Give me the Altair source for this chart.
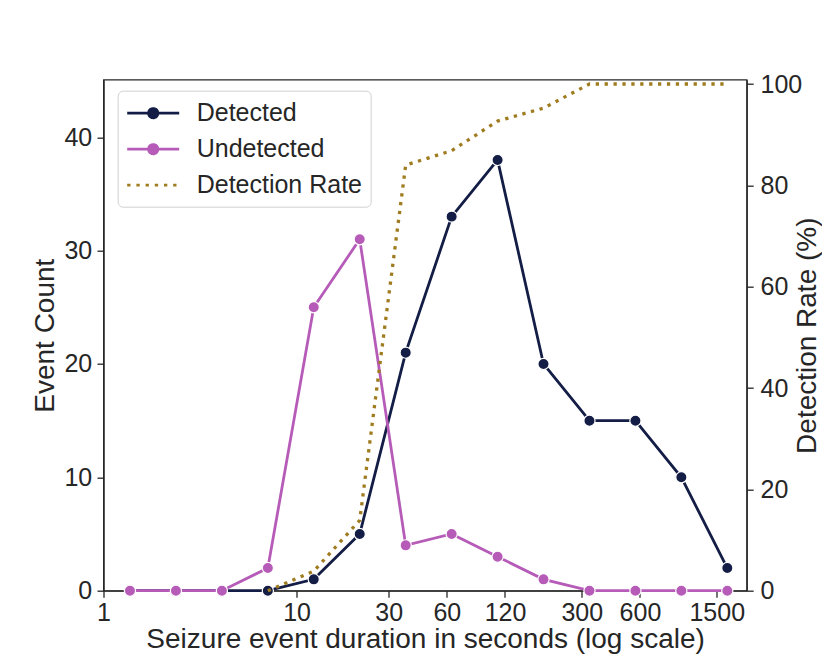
import altair as alt
import pandas as pd

# ---- data ----
durations = [1.371, 2.372, 4.104, 7.098, 12.27, 21.23, 36.73, 63.53, 109.9, 190.0, 328.7, 568.6, 983.3, 1701]
detected = [0, 0, 0, 0, 1, 5, 21, 33, 38, 20, 15, 15, 10, 2]
undetected = [0, 0, 0, 2, 25, 31, 4, 5, 3, 1, 0, 0, 0, 0]
rate_durations = [7.098, 12.27, 21.23, 36.73, 63.53, 109.9, 190.0, 328.7, 568.6, 983.3, 1701]
detection_rate = [0, 3.85, 13.89, 84.0, 86.84, 92.68, 95.24, 100, 100, 100, 100]
x_ticks = [1, 10, 30, 60, 120, 300, 600, 1500]
count_ticks = [0, 10, 20, 30, 40]
rate_ticks = [0, 20, 40, 60, 80, 100]
series = ["Detected", "Undetected", "Detection Rate"]

NAVY = "#131d45"
PINK = "#b65cb8"
GOLD = "#a07c20"
TXT = "#262626"
FONT = "Liberation Sans"

det_df = pd.DataFrame({"duration": durations, "count": detected})
und_df = pd.DataFrame({"duration": durations, "count": undetected})
rate_df = pd.DataFrame({"duration": rate_durations, "rate": detection_rate})
leg_df = pd.DataFrame({"series": series})

W, H = 643.2, 511.0

x_enc = alt.X(
    "duration:Q",
    scale=alt.Scale(type="log", domain=[1, 2143], nice=False),
    axis=alt.Axis(
        values=x_ticks, format="d", title="Seizure event duration in seconds (log scale)",
        labelFlush=False, labelOverlap=False, labelBaseline="alphabetic", labelPadding=23.0,
        titleY=57.3, titleX=W / 2, titleBaseline="alphabetic", titleAlign="center",
    ),
)
y_count = alt.Y(
    "count:Q",
    scale=alt.Scale(domain=[0, 45.08], nice=False),
    axis=alt.Axis(
        values=count_ticks, title="Event Count", labelPadding=5.3,
        titleAngle=270, titleX=-50, titleY=H / 2, titleBaseline="alphabetic", titleAlign="center",
    ),
)
y_rate = alt.Y(
    "rate:Q",
    scale=alt.Scale(domain=[0, 100.85], nice=False),
    axis=alt.Axis(
        orient="right", values=rate_ticks, title="Detection Rate (%)", labelPadding=6.8,
        titleAngle=270, titleX=68.5, titleY=H / 2, titleBaseline="alphabetic", titleAlign="center",
    ),
)

det_line = alt.Chart(det_df).mark_line(color=NAVY, strokeWidth=2.8).encode(x=x_enc, y=y_count)
det_pts = alt.Chart(det_df).mark_point(
    shape="circle", filled=True, size=125, fill=NAVY, stroke="white", strokeWidth=1.2, opacity=1
).encode(x=x_enc, y=y_count)
und_line = alt.Chart(und_df).mark_line(color=PINK, strokeWidth=2.8).encode(x=x_enc, y=y_count)
und_pts = alt.Chart(und_df).mark_point(
    shape="circle", filled=True, size=125, fill=PINK, stroke="white", strokeWidth=1.2, opacity=1
).encode(x=x_enc, y=y_count)

line_dot = "M-1,0H3M1.36,0A0.36,0.36,0,1,1,0.64,0A0.36,0.36,0,1,1,1.36,0"
line_only = "M-1,0H3"
leg_scale_dom = series
legend_layer = alt.Chart(leg_df).mark_point(filled=True, opacity=0).encode(
    fill=alt.Fill("series:N", scale=alt.Scale(domain=leg_scale_dom, range=[NAVY, PINK, GOLD]), title=None),
    stroke=alt.Stroke("series:N", scale=alt.Scale(domain=leg_scale_dom, range=[NAVY, PINK, GOLD]), title=None),
    shape=alt.Shape("series:N", scale=alt.Scale(domain=leg_scale_dom, range=[line_dot, line_dot, line_only]), title=None),
    strokeDash=alt.StrokeDash("series:N", scale=alt.Scale(domain=leg_scale_dom, range=[[1, 0], [1, 0], [3.3, 5.9]]), title=None),
)

counts = alt.layer(det_line, det_pts, und_line, und_pts, legend_layer)
rate_line = alt.Chart(rate_df).mark_line(
    color=GOLD, strokeWidth=3.3, strokeDash=[3.3, 5.6], strokeCap="butt"
).encode(x=x_enc, y=y_rate)

chart = (
    alt.layer(counts, rate_line)
    .resolve_scale(y="independent")
    .properties(
        width=W, height=H,
        autosize=alt.AutoSizeParams(type="none"),
        padding={"left": 95.5, "top": 71.7, "right": 75, "bottom": 64},
        background="white",
    )
    .configure_view(stroke=TXT, strokeWidth=1.3)
    .configure_axis(
        grid=False, domainColor=TXT, domainWidth=1.3, tickColor=TXT, tickWidth=1.3, tickSize=6.5,
        labelFont=FONT, labelFontSize=25, labelColor=TXT,
        titleFont=FONT, titleFontSize=28, titleColor=TXT, titleFontWeight="normal",
    )
    .configure_legend(
        orient="none", legendX=14.2, legendY=11, padding=8,
        fillColor="white", strokeColor="#d0d0d0", cornerRadius=5,
        labelFont=FONT, labelFontSize=25, labelColor=TXT, labelOffset=42, labelLimit=400,
        symbolSize=676, symbolStrokeWidth=2.7, symbolOpacity=1, rowPadding=8,
    )
)

chart.save("out.html", embed_options={"renderer": "svg", "actions": False})
